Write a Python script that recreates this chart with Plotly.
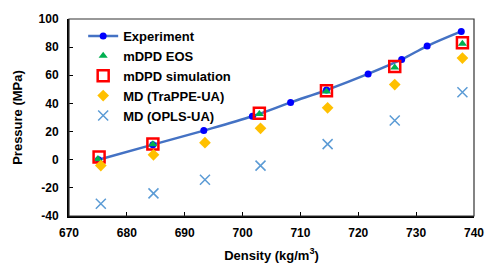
import plotly.graph_objects as go

exp_x = [675.1, 684.5, 693.3, 701.7, 708.3, 714.5, 721.7, 727.5, 731.9, 737.8]
exp_y = [0.0, 10.7, 20.7, 30.9, 40.7, 49.5, 61.0, 71.3, 80.8, 91.2]

eos_x = [675.0, 684.5, 702.9, 714.5, 726.3, 738.0]
eos_y = [0.5, 11.0, 32.5, 48.5, 65.5, 82.5]

sim_x = [675.2, 684.5, 702.9, 714.5, 726.3, 738.0]
sim_y = [1.9, 11.1, 33.0, 49.0, 66.2, 83.1]

trappe_x = [675.5, 684.6, 693.5, 703.1, 714.7, 726.3, 738.0]
trappe_y = [-4.2, 3.5, 12.1, 22.3, 36.9, 53.4, 72.2]

opls_x = [675.5, 684.6, 693.5, 703.1, 714.7, 726.3, 738.0]
opls_y = [-31.3, -23.9, -14.3, -4.2, 11.1, 27.9, 48.0]

x_ticks = [670, 680, 690, 700, 710, 720, 730, 740]
y_ticks = [-40, -20, 0, 20, 40, 60, 80, 100]

fig = go.Figure()
fig.add_trace(go.Scatter(x=exp_x, y=exp_y, mode="lines+markers", name="Experiment",
                         line=dict(color="#4472C4", width=2.5, shape="spline"),
                         marker=dict(color="#0000FF", size=7, symbol="circle")))
fig.add_trace(go.Scatter(x=eos_x, y=eos_y, mode="markers", name="mDPD EOS",
                         marker=dict(color="#00B050", size=8, symbol="triangle-up")))
fig.add_trace(go.Scatter(x=sim_x, y=sim_y, mode="markers", name="mDPD simulation",
                         marker=dict(color="rgba(0,0,0,0)", size=11, symbol="square",
                                     line=dict(color="#FF0000", width=2.5))))
fig.add_trace(go.Scatter(x=trappe_x, y=trappe_y, mode="markers", name="MD (TraPPE-UA)",
                         marker=dict(color="#FFC000", size=9, symbol="diamond")))
fig.add_trace(go.Scatter(x=opls_x, y=opls_y, mode="markers", name="MD (OPLS-UA)",
                         marker=dict(color="#5B9BD5", size=10, symbol="x-thin-open",
                                     line=dict(color="#5B9BD5", width=1.5))))

font_fam = "Liberation Sans, Arial, sans-serif"
fig.update_layout(
    width=498, height=278,
    margin=dict(l=69, r=24, t=15, b=62),
    plot_bgcolor="white", paper_bgcolor="white",
    font=dict(family=font_fam, color="black", size=12),
    showlegend=True,
    legend=dict(x=0.035, y=0.99, xanchor="left", yanchor="top",
                bgcolor="rgba(0,0,0,0)", font=dict(size=13, family=font_fam, weight="bold"),
                tracegroupgap=0, itemwidth=30),
    xaxis=dict(range=[670, 740], tickvals=x_ticks, ticktext=[str(v) for v in x_ticks],
               showgrid=False, zeroline=False, showline=True, linecolor="black", linewidth=2,
               ticks="inside", ticklen=4, tickwidth=1, tickcolor="black",
               ticklabelstandoff=5,
               tickfont=dict(size=12, weight="bold"),
               title=dict(text="Density (kg/m<sup>3</sup>)", font=dict(size=13, weight="bold"), standoff=11)),
    yaxis=dict(range=[-40, 100], tickvals=y_ticks, ticktext=[str(v) for v in y_ticks],
               showgrid=False, zeroline=False, showline=True, linecolor="black", linewidth=2,
               ticks="inside", ticklen=4, tickwidth=1, tickcolor="black",
               ticklabelstandoff=6,
               tickfont=dict(size=12, weight="bold"),
               title=dict(text="Pressure (MPa)", font=dict(size=13, weight="bold"), standoff=13)),
)
fig.add_shape(type="rect", xref="paper", yref="paper", x0=0, y0=0, x1=1, y1=1,
              line=dict(color="#333333", width=1.2), fillcolor="rgba(0,0,0,0)", layer="above")
fig.write_html("out.html", config={"displayModeBar": False},
               post_script="document.body.style.margin='0';")
